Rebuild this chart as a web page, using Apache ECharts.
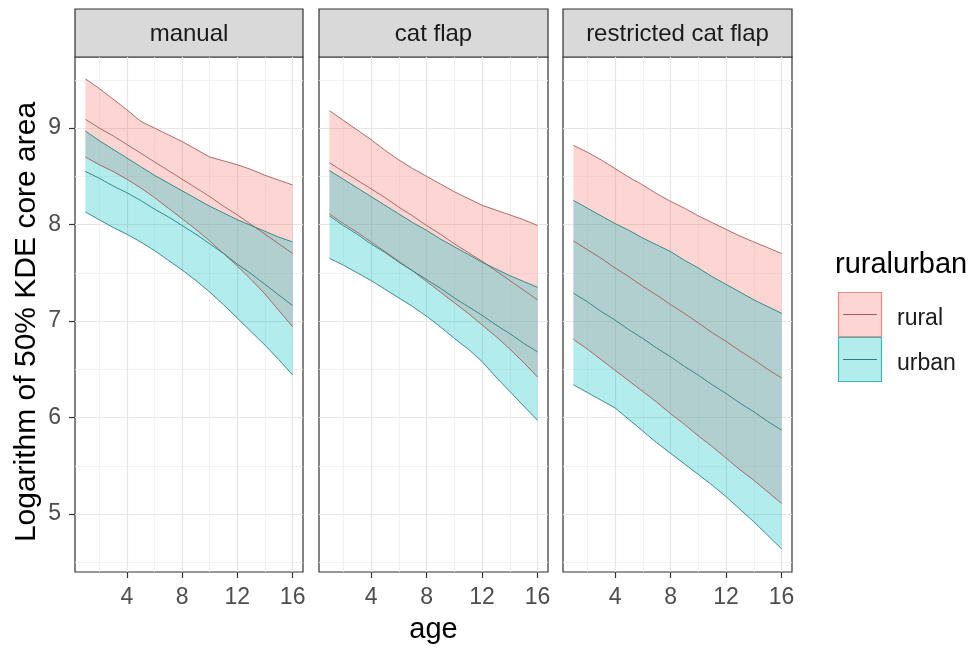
<!DOCTYPE html>
<html><head><meta charset="utf-8">
<script src="https://cdn.jsdelivr.net/npm/echarts@6/dist/echarts.min.js"></script>
<style>html,body{margin:0;padding:0;background:#fff}#c{width:971px;height:650px}</style>
</head><body><div id="c"></div>
<script>
// ---------------- data ----------------
const ages = [1,2,3,4,5,6,7,8,9,10,11,12,13,14,15,16];
const panelNames = ['manual', 'cat flap', 'restricted cat flap'];
const groupNames = ['rural', 'urban'];
const yTickValues = [5, 6, 7, 8, 9];
const yMinorValues = [4.5, 5.5, 6.5, 7.5, 8.5, 9.5];
const xTickValues = [4, 8, 12, 16];
const xMinorValues = [2, 6, 10, 14];
const yTitle = 'Logarithm of 50% KDE core area';
const xTitle = 'age';
const legendTitle = 'ruralurban';

// manual
const manualRuralUpper = [9.51, 9.41, 9.30, 9.19, 9.07, 9.00, 8.93, 8.86, 8.78, 8.70, 8.66, 8.62, 8.57, 8.51, 8.46, 8.41];
const manualRuralMid   = [9.09, 9.00, 8.92, 8.83, 8.74, 8.65, 8.56, 8.47, 8.38, 8.29, 8.19, 8.10, 8.00, 7.90, 7.80, 7.70];
const manualRuralLower = [8.70, 8.62, 8.55, 8.47, 8.38, 8.28, 8.17, 8.06, 7.95, 7.83, 7.70, 7.57, 7.43, 7.28, 7.11, 6.94];
const manualUrbanUpper = [8.97, 8.87, 8.78, 8.69, 8.60, 8.51, 8.43, 8.35, 8.27, 8.19, 8.12, 8.05, 7.99, 7.93, 7.87, 7.82];
const manualUrbanMid   = [8.55, 8.48, 8.40, 8.33, 8.25, 8.16, 8.08, 7.99, 7.90, 7.80, 7.70, 7.59, 7.49, 7.38, 7.27, 7.16];
const manualUrbanLower = [8.13, 8.05, 7.97, 7.90, 7.82, 7.73, 7.63, 7.53, 7.42, 7.30, 7.17, 7.03, 6.89, 6.75, 6.60, 6.44];
// cat flap
const catflapRuralUpper = [9.18, 9.08, 8.98, 8.88, 8.77, 8.67, 8.58, 8.50, 8.42, 8.34, 8.27, 8.20, 8.15, 8.10, 8.05, 7.99];
const catflapRuralMid   = [8.64, 8.55, 8.46, 8.37, 8.28, 8.18, 8.09, 7.99, 7.90, 7.80, 7.71, 7.62, 7.52, 7.42, 7.32, 7.22];
const catflapRuralLower = [8.11, 8.01, 7.92, 7.82, 7.72, 7.62, 7.52, 7.41, 7.30, 7.19, 7.08, 6.96, 6.84, 6.71, 6.57, 6.42];
const catflapUrbanUpper = [8.56, 8.47, 8.38, 8.29, 8.20, 8.11, 8.02, 7.94, 7.85, 7.77, 7.69, 7.61, 7.54, 7.47, 7.41, 7.35];
const catflapUrbanMid   = [8.09, 7.99, 7.90, 7.80, 7.71, 7.61, 7.52, 7.43, 7.34, 7.24, 7.15, 7.06, 6.96, 6.87, 6.77, 6.68];
const catflapUrbanLower = [7.65, 7.58, 7.50, 7.42, 7.33, 7.24, 7.15, 7.05, 6.94, 6.82, 6.71, 6.58, 6.42, 6.27, 6.12, 5.97];
// restricted cat flap
const restrictedRuralUpper = [8.82, 8.75, 8.67, 8.58, 8.49, 8.41, 8.32, 8.24, 8.17, 8.09, 8.02, 7.95, 7.88, 7.82, 7.76, 7.70];
const restrictedRuralMid   = [7.83, 7.74, 7.65, 7.55, 7.46, 7.36, 7.27, 7.17, 7.08, 6.98, 6.88, 6.79, 6.69, 6.60, 6.50, 6.41];
const restrictedRuralLower = [6.81, 6.71, 6.60, 6.49, 6.38, 6.27, 6.16, 6.04, 5.93, 5.81, 5.70, 5.58, 5.46, 5.35, 5.23, 5.11];
const restrictedUrbanUpper = [8.25, 8.17, 8.09, 8.01, 7.94, 7.86, 7.79, 7.72, 7.63, 7.55, 7.46, 7.38, 7.30, 7.22, 7.15, 7.08];
const restrictedUrbanMid   = [7.29, 7.20, 7.10, 7.01, 6.91, 6.82, 6.72, 6.63, 6.53, 6.44, 6.34, 6.25, 6.15, 6.06, 5.96, 5.87];
const restrictedUrbanLower = [6.34, 6.26, 6.18, 6.10, 5.98, 5.86, 5.74, 5.63, 5.52, 5.41, 5.30, 5.18, 5.05, 4.92, 4.78, 4.64];

const panelData = [
  { rural: [manualRuralLower, manualRuralMid, manualRuralUpper], urban: [manualUrbanLower, manualUrbanMid, manualUrbanUpper] },
  { rural: [catflapRuralLower, catflapRuralMid, catflapRuralUpper], urban: [catflapUrbanLower, catflapUrbanMid, catflapUrbanUpper] },
  { rural: [restrictedRuralLower, restrictedRuralMid, restrictedRuralUpper], urban: [restrictedUrbanLower, restrictedUrbanMid, restrictedUrbanUpper] }
];

// ---------------- layout / style ----------------
const FONT = '"Liberation Sans", Arial, sans-serif';
const panelLeft = [75, 319, 563];
const panelWidth = [228, 229, 229];
const panelTop = 57, panelHeight = 515;
const stripTop = 9, stripHeight = 48;
const xRange = [0.25, 16.75];
const yRange = [4.40, 9.736];
const fills = { rural: 'rgba(248,118,109,0.3)', urban: 'rgba(0,191,196,0.3)' };
const lineColors = { rural: '#A85C57', urban: '#2A8083' };
const keyBorder = { rural: '#EE8A83', urban: '#3CB8BB' };

const grids = [], xAxes = [], yAxes = [], series = [], graphics = [];

panelNames.forEach((name, k) => {
  grids.push({ left: panelLeft[k], top: panelTop, width: panelWidth[k], height: panelHeight,
    show: true, backgroundColor: '#fff', borderColor: '#333', borderWidth: 1.2, containLabel: false });
  xAxes.push({ type: 'value', gridIndex: k, min: xRange[0], max: xRange[1], position: 'bottom',
    axisLine: { show: false },
    axisTick: { show: true, customValues: xTickValues, length: 6, lineStyle: { color: '#333', width: 1.2 } },
    axisLabel: { show: true, customValues: xTickValues, fontSize: 23, color: '#4D4D4D', fontFamily: FONT, margin: 14 },
    splitLine: { show: true, lineStyle: { color: '#E6E6E6', width: 1.2 } } });
  xAxes.push({ type: 'value', gridIndex: k, min: xRange[0], max: xRange[1], position: 'top',
    axisLine: { show: false }, axisLabel: { show: false },
    axisTick: { show: false, customValues: xMinorValues },
    splitLine: { show: true, lineStyle: { color: '#EFEFEF', width: 0.8 } } });
  yAxes.push({ type: 'value', gridIndex: k, min: yRange[0], max: yRange[1], position: 'left',
    axisLine: { show: false },
    axisTick: { show: k === 0, customValues: yTickValues, length: 6, lineStyle: { color: '#333', width: 1.2 } },
    axisLabel: { show: k === 0, customValues: yTickValues, fontSize: 23, color: '#4D4D4D', fontFamily: FONT, margin: 14 },
    splitLine: { show: true, lineStyle: { color: '#E6E6E6', width: 1.2 } } });
  yAxes.push({ type: 'value', gridIndex: k, min: yRange[0], max: yRange[1], position: 'right',
    axisLine: { show: false }, axisLabel: { show: false },
    axisTick: { show: false, customValues: yMinorValues },
    splitLine: { show: true, lineStyle: { color: '#EFEFEF', width: 0.8 } } });

  const pd = panelData[k];
  groupNames.forEach(g => {
    const [lo, mid, up] = pd[g];
    series.push({
      type: 'custom', name: g, xAxisIndex: 2 * k, yAxisIndex: 2 * k, silent: true, z: 2,
      data: ages.map((a, i) => [a, lo[i], up[i]]),
      encode: { x: 0, y: [1, 2] },
      renderItem: function (params, api) {
        if (params.dataIndex !== 0) return null;
        const pts = [];
        for (let i = 0; i < ages.length; i++) pts.push(api.coord([ages[i], up[i]]));
        for (let i = ages.length - 1; i >= 0; i--) pts.push(api.coord([ages[i], lo[i]]));
        return { type: 'polygon', shape: { points: pts }, style: { fill: fills[g] } };
      }
    });
  });
  groupNames.forEach(g => {
    pd[g].forEach(arr => {
      series.push({
        type: 'line', xAxisIndex: 2 * k, yAxisIndex: 2 * k, z: 3, silent: true,
        symbol: 'none', showSymbol: false,
        lineStyle: { color: lineColors[g], width: 0.9 },
        data: ages.map((a, i) => [a, arr[i]])
      });
    });
  });

  graphics.push({ type: 'rect', shape: { x: panelLeft[k], y: stripTop, width: panelWidth[k], height: stripHeight },
    style: { fill: '#D9D9D9', stroke: '#333', lineWidth: 1.2 } });
  graphics.push({ type: 'text', x: panelLeft[k] + panelWidth[k] / 2, y: stripTop + stripHeight / 2 + 1,
    style: { text: name, fontSize: 24, fontFamily: FONT, fill: '#1A1A1A', align: 'center', verticalAlign: 'middle' } });
});

graphics.push({ type: 'text', x: 27, y: 322, rotation: Math.PI / 2,
  style: { text: yTitle, fontSize: 30, fontFamily: FONT, fill: '#000', align: 'center', verticalAlign: 'middle' } });
graphics.push({ type: 'text', x: (panelLeft[0] + panelLeft[2] + panelWidth[2]) / 2, y: 630,
  style: { text: xTitle, fontSize: 29, fontFamily: FONT, fill: '#000', align: 'center', verticalAlign: 'middle' } });

graphics.push({ type: 'text', x: 835, y: 265,
  style: { text: legendTitle, fontSize: 29, fontFamily: FONT, fill: '#000', align: 'left', verticalAlign: 'middle' } });
groupNames.forEach((g, j) => {
  const top = 292 + j * 45;
  graphics.push({ type: 'rect', shape: { x: 838.5, y: top + 0.5, width: 43, height: 44 },
    style: { fill: fills[g], stroke: keyBorder[g], lineWidth: 1.2 } });
  graphics.push({ type: 'line', shape: { x1: 843, y1: top + 22.5, x2: 877, y2: top + 22.5 },
    style: { stroke: lineColors[g], lineWidth: 1.2 } });
  graphics.push({ type: 'text', x: 897, y: top + 27,
    style: { text: g, fontSize: 23, fontFamily: FONT, fill: '#1A1A1A', align: 'left', verticalAlign: 'middle' } });
});

const chart = echarts.init(document.getElementById('c'));
chart.setOption({
  animation: false,
  backgroundColor: '#fff',
  grid: grids, xAxis: xAxes, yAxis: yAxes, series: series,
  graphic: graphics
});
</script></body></html>
